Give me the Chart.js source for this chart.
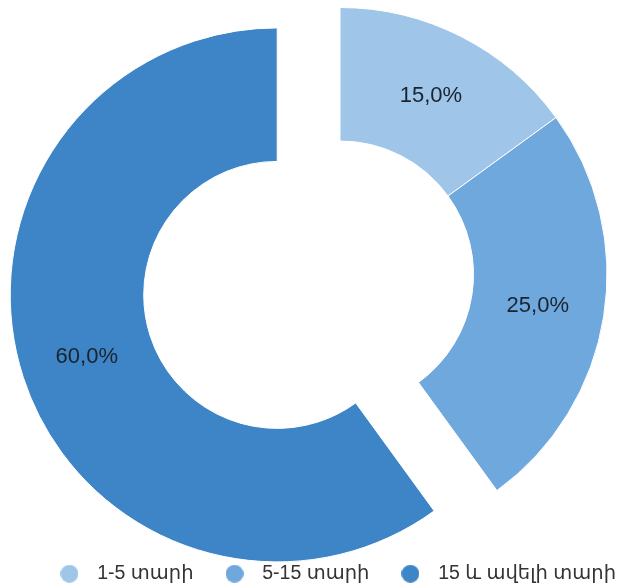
<!DOCTYPE html>
<html>
<head>
<meta charset="utf-8">
<script src="https://cdn.jsdelivr.net/npm/chart.js@4/dist/chart.umd.min.js"></script>
<style>
  html, body { margin: 0; padding: 0; background: #fff; }
  #wrap { width: 618px; height: 586px; position: relative; }
</style>
</head>
<body>
<div id="wrap"><canvas id="tenureChart"></canvas></div>
<script>
const categories = ['1-5 տարի', '5-15 տարի', '15 և ավելի տարի'];
const shares = [15, 25, 60];
const sliceColors = ['#9fc5e8', '#6fa8dc', '#3d85c6'];

const FONT = "'Liberation Sans', 'DejaVu Sans', Arial, sans-serif";
const explodedSlice = 2;
const explodeBy = 66;

// round legend dot drawn as an image so the gap to the text can be wider
function dot(color) {
    const c = document.createElement('canvas');
    c.width = 18;
    c.height = 18;
    const g = c.getContext('2d');
    g.fillStyle = color;
    g.beginPath();
    g.arc(9, 9, 9, 0, Math.PI * 2);
    g.fill();
    return c;
}

const explodePlugin = {
    id: 'explode',
    afterDatasetsUpdate(chart) {
        const arc = chart.getDatasetMeta(0).data[explodedSlice];
        if (!arc) return;
        const mid = (arc.startAngle + arc.endAngle) / 2;
        arc.x += Math.cos(mid) * explodeBy;
        arc.y += Math.sin(mid) * explodeBy;
    }
};

const valueLabels = {
    id: 'valueLabels',
    afterDatasetsDraw(chart) {
        const ctx = chart.ctx;
        const ds = chart.data.datasets[0];
        ctx.save();
        ctx.font = '22px ' + FONT;
        ctx.fillStyle = '#1a2330';
        ctx.textAlign = 'center';
        ctx.textBaseline = 'middle';
        chart.getDatasetMeta(0).data.forEach((arc, i) => {
            const mid = (arc.startAngle + arc.endAngle) / 2;
            const r = (arc.innerRadius + arc.outerRadius) / 2;
            const txt = ds.data[i].toFixed(1).replace('.', ',') + '%';
            ctx.fillText(txt, arc.x + Math.cos(mid) * r, arc.y + Math.sin(mid) * r);
        });
        ctx.restore();
    }
};

const chart = new Chart(document.getElementById('tenureChart'), {
    type: 'doughnut',
    data: {
        labels: categories,
        datasets: [{
            data: shares,
            backgroundColor: sliceColors,
            borderColor: '#ffffff',
            borderWidth: 1
        }]
    },
    options: {
        responsive: true,
        maintainAspectRatio: false,
        animation: false,
        radius: 267,
        cutout: '50%',
        layout: {
            padding: { left: 0, right: -21, top: 8, bottom: 0 }
        },
        plugins: {
            tooltip: { enabled: false },
            // empty title on the left, only used as a spacer so the ring sits right of centre
            title: {
                display: true,
                position: 'left',
                text: '',
                padding: 0,
                font: { size: 62, lineHeight: 1 }
            },
            legend: {
                position: 'bottom',
                align: 'end',
                maxHeight: 45,
                labels: {
                    usePointStyle: true,
                    pointStyleWidth: 36,
                    padding: 23,
                    color: '#333333',
                    font: { size: 19.5, family: FONT },
                    generateLabels(c) {
                        const base = Chart.overrides.doughnut.plugins.legend.labels.generateLabels(c);
                        return base.map(item => Object.assign(item, { pointStyle: dot(item.fillStyle) }));
                    }
                }
            }
        }
    },
    plugins: [explodePlugin, valueLabels]
});
</script>
</body>
</html>
